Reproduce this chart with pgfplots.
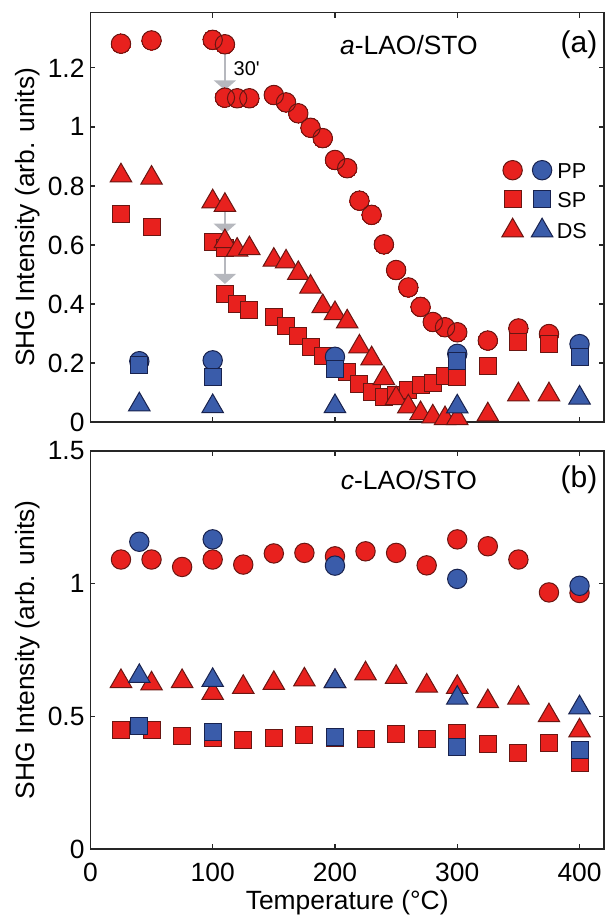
\documentclass[border=0pt]{standalone}
\usepackage{fontspec}
\setmainfont{Liberation Sans}
\usepackage{pgfplots}
\pgfplotsset{compat=1.18}
\usetikzlibrary{arrows.meta}

\definecolor{mred}{RGB}{232,33,30}
\definecolor{mredd}{RGB}{105,22,18}
\definecolor{mblue}{RGB}{58,92,170}
\definecolor{mblued}{RGB}{24,34,78}
\definecolor{arrowgray}{RGB}{182,184,190}

\pgfplotsset{
  rc/.style={only marks, mark=*, mark size=4.85pt, mark options={fill=mred, draw=mredd, line width=0.5pt}},
  rs/.style={only marks, mark=square*, mark size=4.25pt, mark options={fill=mred, draw=mredd, line width=0.5pt}},
  rt/.style={only marks, mark=triangle*, mark size=6.2pt, mark options={fill=mred, draw=mredd, line width=0.5pt}},
  bc/.style={only marks, mark=*, mark size=4.85pt, mark options={fill=mblue, draw=mblued, line width=0.5pt}},
  bs/.style={only marks, mark=square*, mark size=4.25pt, mark options={fill=mblue, draw=mblued, line width=0.5pt}},
  bt/.style={only marks, mark=triangle*, mark size=6.2pt, mark options={fill=mblue, draw=mblued, line width=0.5pt}},
  panel/.style={
    scale only axis, width=256.8pt,
    xmin=0, xmax=420, xtick={0,100,...,400},
    tick align=inside, major tick length=2.5pt,
    axis line style={line width=0.7pt, black!85},
    every tick/.style={black!85, line width=0.6pt},
    tick label style={font=\fontsize{13.2}{15}\selectfont},
    /pgf/number format/assume math mode=true,
    yticklabel style={inner sep=0pt, xshift=-2.75pt},
    xticklabel style={inner sep=0pt, yshift=-7pt},
    ylabel={SHG Intensity (arb. units)},
    ylabel style={font=\fontsize{13.2}{15}\selectfont, at={(axis description cs:-0.1215,0.5)}, anchor=center},
    legend image code/.code={\draw[#1] plot coordinates {(0pt,0pt)};},
  },
}

\begin{document}
\begin{tikzpicture}
\useasboundingbox (0,0) rectangle (303.5pt,-458.5pt);

% ---------------- (a) a-LAO/STO ----------------
\begin{axis}[panel,
  at={(45.2pt,-6.35pt)}, anchor=north west,
  height=204.65pt, ymin=0, ymax=1.387,
  ytick={0,0.2,0.4,0.6,0.8,1,1.2},
  xticklabels={},
  legend columns=2,
  legend style={at={(axis cs:336.5,0.751)}, anchor=west, draw=none, fill=none,
    inner sep=0pt, outer sep=0pt, column sep=1pt, row sep=4.5pt,
    font=\fontsize{10.8}{12}\selectfont,
    nodes={inner sep=1pt, text height=8pt, text depth=0pt}},
]
\addlegendimage{rc}\addlegendentry{\mbox{}}
\addlegendimage{bc}\addlegendentry{PP}
\addlegendimage{rs}\addlegendentry{\mbox{}}
\addlegendimage{bs}\addlegendentry{SP}
\addlegendimage{rt}\addlegendentry{\mbox{}}
\addlegendimage{bt}\addlegendentry{DS}

% 30 min hold at 110 C
\draw[arrowgray, line width=1pt, -{Triangle[width=11pt,length=5pt]}] (axis cs:110,1.280) -- (axis cs:110,1.124);
\draw[arrowgray, line width=1pt, -{Triangle[width=11pt,length=5pt]}] (axis cs:110,0.735) -- (axis cs:110,0.638);
\draw[arrowgray, line width=1pt, -{Triangle[width=11pt,length=5pt]}] (axis cs:110,0.590) -- (axis cs:110,0.468);

% PP, red: fills first, then outlines so overlapping rims stay visible
\addplot[rc, forget plot, mark options={fill=mred, draw=mred, line width=0pt}] coordinates {
(25,1.282)(50,1.293)(100,1.295)(110,1.280)(110,1.099)(120,1.097)(130,1.097)
(150,1.108)(160,1.083)(170,1.046)(180,0.997)(190,0.962)(200,0.888)(210,0.860)
(220,0.750)(230,0.702)(240,0.602)(250,0.515)(260,0.456)(270,0.390)(280,0.339)
(290,0.321)(300,0.304)(325,0.276)(350,0.317)(375,0.298)};
\addplot[only marks, forget plot, mark=o, mark size=4.85pt, mark options={draw=mredd, line width=0.5pt}] coordinates {
(25,1.282)(50,1.293)(100,1.295)(110,1.280)(110,1.099)(120,1.097)(130,1.097)
(150,1.108)(160,1.083)(170,1.046)(180,0.997)(190,0.962)(200,0.888)(210,0.860)
(220,0.750)(230,0.702)(240,0.602)(250,0.515)(260,0.456)(270,0.390)(280,0.339)
(290,0.321)(300,0.304)(325,0.276)(350,0.317)(375,0.298)};
% SP, red
\addplot[rs, forget plot] coordinates {
(25,0.705)(50,0.660)(100,0.610)(110,0.590)(110,0.435)(120,0.400)(130,0.380)
(150,0.355)(160,0.325)(170,0.293)(180,0.254)(190,0.225)(200,0.195)(210,0.168)
(220,0.130)(230,0.101)(240,0.084)(250,0.092)(260,0.107)(270,0.124)(280,0.131)
(290,0.157)(300,0.151)(325,0.190)(350,0.272)(375,0.264)};
% DS, red
\addplot[rt, forget plot] coordinates {
(25,0.835)(50,0.827)(100,0.747)(110,0.735)(110,0.612)(120,0.583)(130,0.588)
(150,0.549)(160,0.543)(170,0.504)(180,0.458)(190,0.392)(200,0.368)(210,0.340)
(220,0.255)(230,0.215)(240,0.148)(250,0.080)(260,0.052)(270,0.029)(280,0.018)
(290,0.012)(300,0.012)(325,0.025)(350,0.093)(375,0.093)};
% blue
\addplot[bc, forget plot] coordinates {(40,0.206)(100,0.209)(200,0.221)(300,0.231)(400,0.264)};
\addplot[bs, forget plot] coordinates {(40,0.193)(100,0.151)(200,0.180)(300,0.208)(400,0.220)};
\addplot[bt, forget plot] coordinates {(40,0.059)(100,0.053)(200,0.053)(300,0.052)(400,0.082)};

\node[font=\fontsize{13.2}{15}\selectfont] at (axis cs:260.5,1.278) {\textit{a}-LAO/STO};
\node[font=\fontsize{15}{17}\selectfont] at (axis cs:399.5,1.278) {(a)};
\node[font=\fontsize{10}{12}\selectfont] at (axis cs:127.8,1.198) {30\textquotesingle};
\end{axis}

% ---------------- (b) c-LAO/STO ----------------
\begin{axis}[panel,
  at={(45.2pt,-225.5pt)}, anchor=north west,
  height=199pt, ymin=0, ymax=1.5,
  ytick={0,0.5,1,1.5},
  xlabel={Temperature (°C)},
  xlabel style={font=\fontsize{13.2}{15}\selectfont, at={(axis description cs:0.5,-0.1357)}, anchor=center},
]
\addplot[rc] coordinates {
(25,1.091)(50,1.091)(75,1.063)(100,1.091)(125,1.072)(150,1.114)(175,1.116)(200,1.103)
(225,1.122)(250,1.116)(275,1.069)(300,1.167)(325,1.141)(350,1.091)(375,0.967)(400,0.965)};
\addplot[rs] coordinates {
(25,0.447)(50,0.447)(75,0.425)(100,0.420)(125,0.409)(150,0.418)(175,0.428)(200,0.420)
(225,0.413)(250,0.434)(275,0.413)(300,0.438)(325,0.394)(350,0.362)(375,0.399)(400,0.325)};
\addplot[rt] coordinates {
(25,0.632)(50,0.623)(75,0.632)(100,0.587)(125,0.610)(150,0.625)(175,0.638)(200,0.632)
(225,0.661)(250,0.648)(275,0.615)(300,0.610)(325,0.556)(350,0.569)(375,0.503)(400,0.446)};
\addplot[bc] coordinates {(40,1.158)(100,1.167)(200,1.068)(300,1.018)(400,0.992)};
\addplot[bs] coordinates {(40,0.463)(100,0.440)(200,0.422)(300,0.384)(400,0.374)};
\addplot[bt] coordinates {(40,0.651)(100,0.636)(200,0.632)(300,0.569)(400,0.533)};

\node[font=\fontsize{13.2}{15}\selectfont] at (axis cs:260.5,1.391) {\textit{c}-LAO/STO};
\node[font=\fontsize{15}{17}\selectfont] at (axis cs:399.5,1.391) {(b)};
\end{axis}
\end{tikzpicture}
\end{document}
